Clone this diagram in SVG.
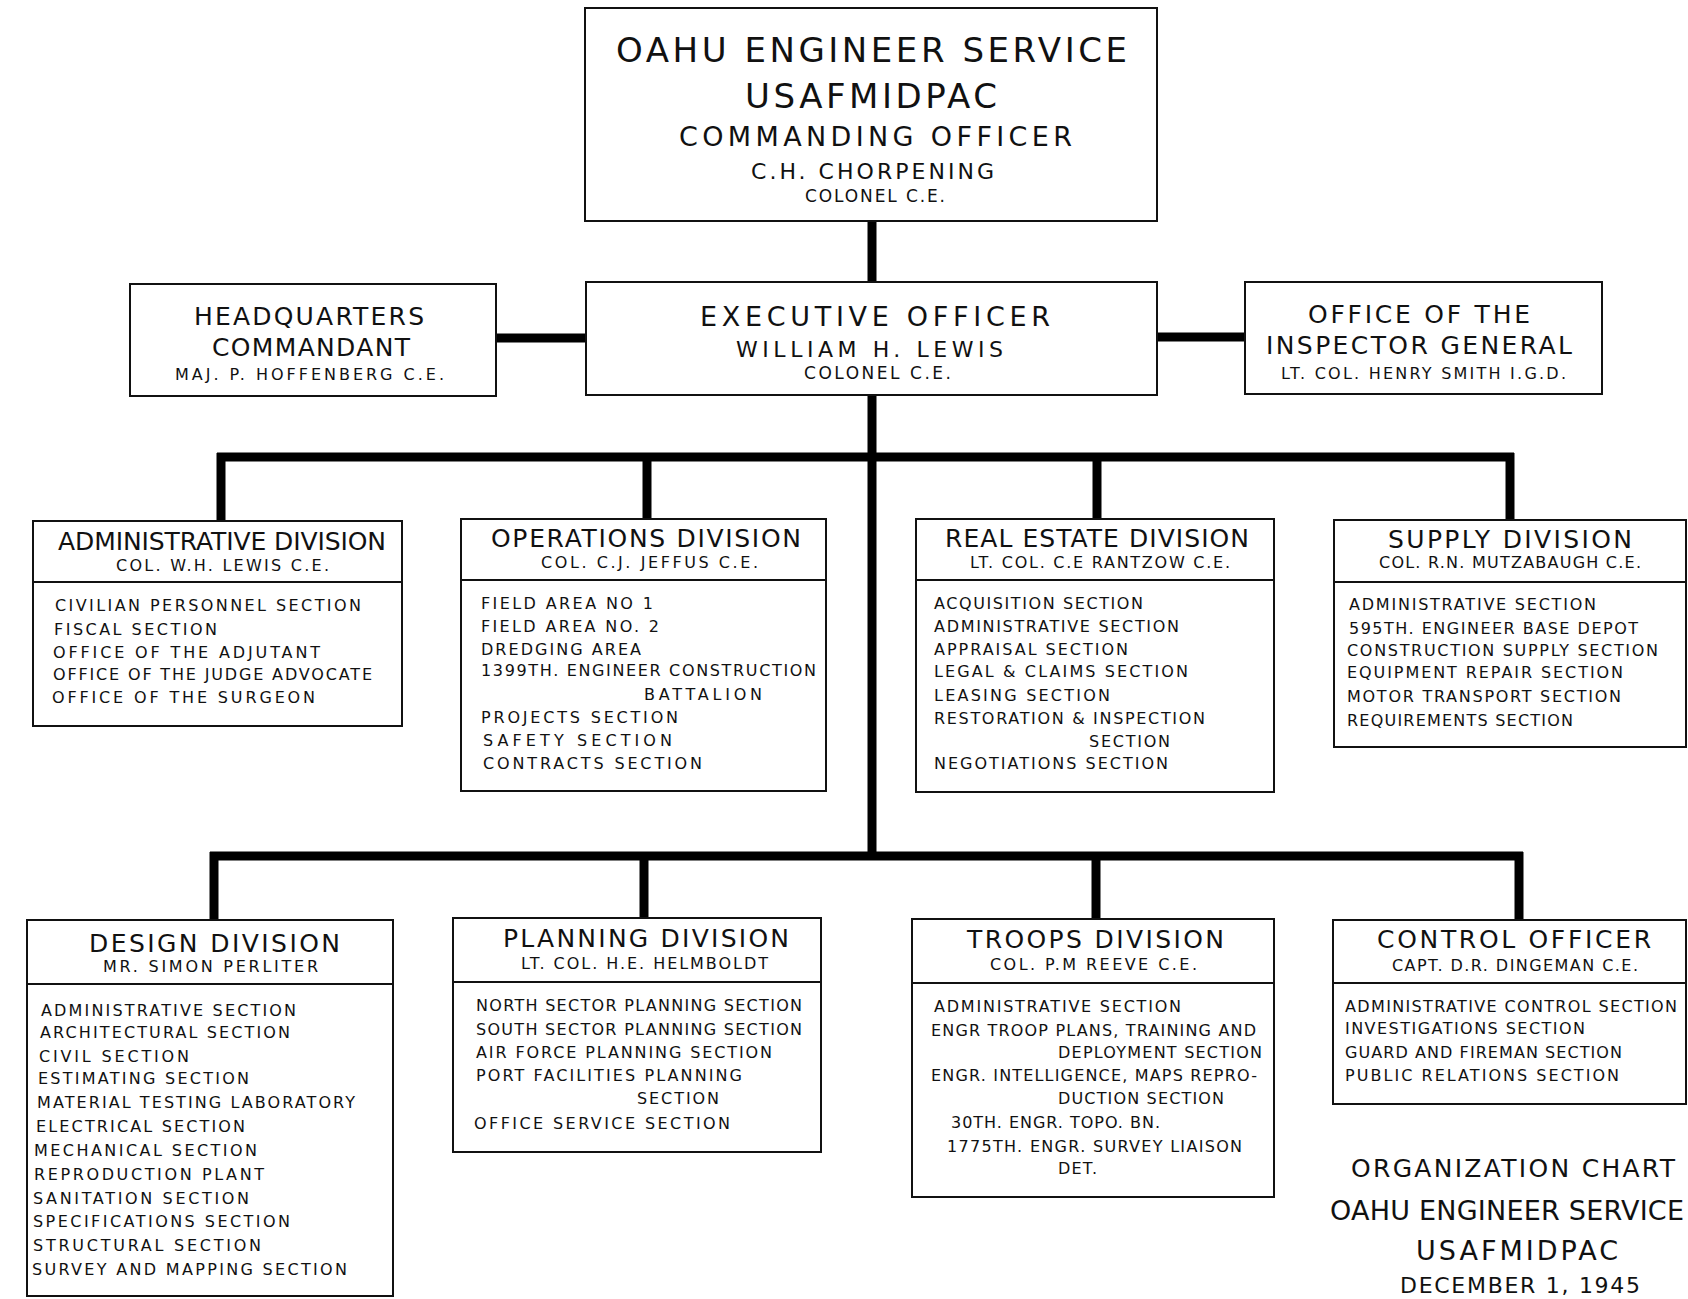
<svg xmlns="http://www.w3.org/2000/svg" width="1688" height="1299" viewBox="0 0 1688 1299">
<style>
.bg{fill:#fff}
.box{fill:#fff;stroke:#111;stroke-width:2}
.div{stroke:#111;stroke-width:2}
.conn{stroke:#000;stroke-width:9;fill:none}
text{font-family:"DejaVu Sans","Liberation Sans",sans-serif;fill:#111}
.t40{font-size:34px}
.t28{font-size:27px}
.t25{font-size:25px}
.t23{font-size:22px}
.t17{font-size:17px}
.t16{font-size:16px}
</style>
<rect class="bg" x="0" y="0" width="1688" height="1299"/>
<g id="connectors">
<line class="conn" x1="872" y1="221" x2="872" y2="282"/>
<line class="conn" x1="496" y1="338" x2="586" y2="338"/>
<line class="conn" x1="1157" y1="337" x2="1245" y2="337"/>
<line class="conn" x1="872" y1="395" x2="872" y2="860"/>
<line class="conn" x1="217" y1="457" x2="1514" y2="457"/>
<line class="conn" x1="221" y1="453" x2="221" y2="521"/>
<line class="conn" x1="647" y1="453" x2="647" y2="519"/>
<line class="conn" x1="1097" y1="453" x2="1097" y2="519"/>
<line class="conn" x1="1510" y1="453" x2="1510" y2="520"/>
<line class="conn" x1="210" y1="856" x2="1523" y2="856"/>
<line class="conn" x1="214" y1="852" x2="214" y2="920"/>
<line class="conn" x1="644" y1="852" x2="644" y2="918"/>
<line class="conn" x1="1096" y1="852" x2="1096" y2="919"/>
<line class="conn" x1="1519" y1="852" x2="1519" y2="920"/>
</g>
<g id="commanding-officer">
<rect class="box" x="585" y="8" width="572" height="213"/>
<text class="t40" x="616" y="62" textLength="511">OAHU ENGINEER SERVICE</text>
<text class="t40" x="745" y="108" textLength="252">USAFMIDPAC</text>
<text class="t28" x="679" y="146" textLength="393">COMMANDING OFFICER</text>
<text class="t23" x="751" y="179" textLength="243">C.H. CHORPENING</text>
<text class="t17" x="805" y="202" textLength="140">COLONEL C.E.</text>
</g>
<g id="executive-officer">
<rect class="box" x="586" y="282" width="571" height="113"/>
<text class="t28" x="700" y="326" textLength="350">EXECUTIVE OFFICER</text>
<text class="t23" x="736" y="357" textLength="267">WILLIAM H. LEWIS</text>
<text class="t17" x="804" y="379" textLength="147">COLONEL C.E.</text>
</g>
<g id="hq-commandant">
<rect class="box" x="130" y="284" width="366" height="112"/>
<text class="t25" x="194" y="325" textLength="230">HEADQUARTERS</text>
<text class="t25" x="212" y="356" textLength="198">COMMANDANT</text>
<text class="t16" x="175" y="380" textLength="269">MAJ. P. HOFFENBERG C.E.</text>
</g>
<g id="inspector-general">
<rect class="box" x="1245" y="282" width="357" height="112"/>
<text class="t25" x="1308" y="323" textLength="222">OFFICE OF THE</text>
<text class="t25" x="1266" y="354" textLength="306">INSPECTOR GENERAL</text>
<text class="t16" x="1281" y="379" textLength="285">LT. COL. HENRY SMITH I.G.D.</text>
</g>
<g id="administrative-division">
<rect class="box" x="33" y="521" width="369" height="205"/>
<line class="div" x1="33" y1="582" x2="402" y2="582"/>
<text class="t25" x="58" y="550" textLength="328">ADMINISTRATIVE DIVISION</text>
<text class="t16" x="116" y="571" textLength="213">COL. W.H. LEWIS C.E.</text>
<text class="t16" x="55" y="611" textLength="306">CIVILIAN PERSONNEL SECTION</text>
<text class="t16" x="54" y="635" textLength="163">FISCAL SECTION</text>
<text class="t16" x="53" y="658" textLength="267">OFFICE OF THE ADJUTANT</text>
<text class="t16" x="53" y="680" textLength="319">OFFICE OF THE JUDGE ADVOCATE</text>
<text class="t16" x="52" y="703" textLength="263">OFFICE OF THE SURGEON</text>
</g>
<g id="operations-division">
<rect class="box" x="461" y="519" width="365" height="272"/>
<line class="div" x1="461" y1="580" x2="826" y2="580"/>
<text class="t25" x="491" y="547" textLength="310">OPERATIONS DIVISION</text>
<text class="t16" x="541" y="568" textLength="217">COL. C.J. JEFFUS C.E.</text>
<text class="t16" x="481" y="609" textLength="172">FIELD AREA NO 1</text>
<text class="t16" x="481" y="632" textLength="178">FIELD AREA NO. 2</text>
<text class="t16" x="481" y="655" textLength="160">DREDGING AREA</text>
<text class="t16" x="481" y="676" textLength="335">1399TH. ENGINEER CONSTRUCTION</text>
<text class="t16" x="644" y="700" textLength="118">BATTALION</text>
<text class="t16" x="481" y="723" textLength="197">PROJECTS SECTION</text>
<text class="t16" x="483" y="746" textLength="189">SAFETY SECTION</text>
<text class="t16" x="483" y="769" textLength="219">CONTRACTS SECTION</text>
</g>
<g id="real-estate-division">
<rect class="box" x="916" y="519" width="358" height="273"/>
<line class="div" x1="916" y1="580" x2="1274" y2="580"/>
<text class="t25" x="945" y="547" textLength="304">REAL ESTATE DIVISION</text>
<text class="t16" x="970" y="568" textLength="260">LT. COL. C.E RANTZOW C.E.</text>
<text class="t16" x="934" y="609" textLength="209">ACQUISITION SECTION</text>
<text class="t16" x="934" y="632" textLength="245">ADMINISTRATIVE SECTION</text>
<text class="t16" x="934" y="655" textLength="194">APPRAISAL SECTION</text>
<text class="t16" x="934" y="677" textLength="254">LEGAL &amp; CLAIMS SECTION</text>
<text class="t16" x="934" y="701" textLength="176">LEASING SECTION</text>
<text class="t16" x="934" y="724" textLength="271">RESTORATION &amp; INSPECTION</text>
<text class="t16" x="1089" y="747" textLength="81">SECTION</text>
<text class="t16" x="934" y="769" textLength="234">NEGOTIATIONS SECTION</text>
</g>
<g id="supply-division">
<rect class="box" x="1334" y="520" width="352" height="227"/>
<line class="div" x1="1334" y1="582" x2="1686" y2="582"/>
<text class="t25" x="1388" y="548" textLength="244">SUPPLY DIVISION</text>
<text class="t16" x="1379" y="568" textLength="262">COL. R.N. MUTZABAUGH C.E.</text>
<text class="t16" x="1349" y="610" textLength="247">ADMINISTRATIVE SECTION</text>
<text class="t16" x="1349" y="634" textLength="289">595TH. ENGINEER BASE DEPOT</text>
<text class="t16" x="1347" y="656" textLength="311">CONSTRUCTION SUPPLY SECTION</text>
<text class="t16" x="1347" y="678" textLength="276">EQUIPMENT REPAIR SECTION</text>
<text class="t16" x="1347" y="702" textLength="274">MOTOR TRANSPORT SECTION</text>
<text class="t16" x="1347" y="726" textLength="226">REQUIREMENTS SECTION</text>
</g>
<g id="design-division">
<rect class="box" x="27" y="920" width="366" height="376"/>
<line class="div" x1="27" y1="984" x2="393" y2="984"/>
<text class="t25" x="89" y="952" textLength="251">DESIGN DIVISION</text>
<text class="t16" x="103" y="972" textLength="215">MR. SIMON PERLITER</text>
<text class="t16" x="41" y="1016" textLength="255">ADMINISTRATIVE SECTION</text>
<text class="t16" x="40" y="1038" textLength="250">ARCHITECTURAL SECTION</text>
<text class="t16" x="39" y="1062" textLength="150">CIVIL SECTION</text>
<text class="t16" x="38" y="1084" textLength="211">ESTIMATING SECTION</text>
<text class="t16" x="37" y="1108" textLength="318">MATERIAL TESTING LABORATORY</text>
<text class="t16" x="36" y="1132" textLength="209">ELECTRICAL SECTION</text>
<text class="t16" x="34" y="1156" textLength="223">MECHANICAL SECTION</text>
<text class="t16" x="34" y="1180" textLength="230">REPRODUCTION PLANT</text>
<text class="t16" x="33" y="1204" textLength="216">SANITATION SECTION</text>
<text class="t16" x="33" y="1227" textLength="257">SPECIFICATIONS SECTION</text>
<text class="t16" x="33" y="1251" textLength="228">STRUCTURAL SECTION</text>
<text class="t16" x="32" y="1275" textLength="315">SURVEY AND MAPPING SECTION</text>
</g>
<g id="planning-division">
<rect class="box" x="453" y="918" width="368" height="234"/>
<line class="div" x1="453" y1="982" x2="821" y2="982"/>
<text class="t25" x="503" y="947" textLength="286">PLANNING DIVISION</text>
<text class="t16" x="521" y="969" textLength="247">LT. COL. H.E. HELMBOLDT</text>
<text class="t16" x="476" y="1011" textLength="326">NORTH SECTOR PLANNING SECTION</text>
<text class="t16" x="476" y="1035" textLength="326">SOUTH SECTOR PLANNING SECTION</text>
<text class="t16" x="476" y="1058" textLength="296">AIR FORCE PLANNING SECTION</text>
<text class="t16" x="476" y="1081" textLength="266">PORT FACILITIES PLANNING</text>
<text class="t16" x="637" y="1104" textLength="82">SECTION</text>
<text class="t16" x="474" y="1129" textLength="256">OFFICE SERVICE SECTION</text>
</g>
<g id="troops-division">
<rect class="box" x="912" y="919" width="362" height="278"/>
<line class="div" x1="912" y1="983" x2="1274" y2="983"/>
<text class="t25" x="967" y="948" textLength="257">TROOPS DIVISION</text>
<text class="t16" x="990" y="970" textLength="207">COL. P.M REEVE C.E.</text>
<text class="t16" x="934" y="1012" textLength="247">ADMINISTRATIVE SECTION</text>
<text class="t16" x="931" y="1036" textLength="325">ENGR TROOP PLANS, TRAINING AND</text>
<text class="t16" x="1058" y="1058" textLength="204">DEPLOYMENT SECTION</text>
<text class="t16" x="931" y="1081" textLength="326">ENGR. INTELLIGENCE, MAPS REPRO-</text>
<text class="t16" x="1058" y="1104" textLength="166">DUCTION SECTION</text>
<text class="t16" x="951" y="1128" textLength="209">30TH. ENGR. TOPO. BN.</text>
<text class="t16" x="947" y="1152" textLength="295">1775TH. ENGR. SURVEY LIAISON</text>
<text class="t16" x="1058" y="1174" textLength="39">DET.</text>
</g>
<g id="control-officer">
<rect class="box" x="1333" y="920" width="353" height="184"/>
<line class="div" x1="1333" y1="983" x2="1686" y2="983"/>
<text class="t25" x="1377" y="948" textLength="274">CONTROL OFFICER</text>
<text class="t16" x="1392" y="971" textLength="246">CAPT. D.R. DINGEMAN C.E.</text>
<text class="t16" x="1345" y="1012" textLength="332">ADMINISTRATIVE CONTROL SECTION</text>
<text class="t16" x="1345" y="1034" textLength="240">INVESTIGATIONS SECTION</text>
<text class="t16" x="1345" y="1058" textLength="277">GUARD AND FIREMAN SECTION</text>
<text class="t16" x="1345" y="1081" textLength="274">PUBLIC RELATIONS SECTION</text>
</g>
<g id="chart-title">
<text class="t25" x="1351" y="1177" textLength="324">ORGANIZATION CHART</text>
<text class="t28" x="1330" y="1220" font-size="26" textLength="354">OAHU ENGINEER SERVICE</text>
<text class="t28" x="1416" y="1260" textLength="202">USAFMIDPAC</text>
<text class="t23" x="1400" y="1293" font-size="20" textLength="240">DECEMBER 1, 1945</text>
</g>
</svg>
